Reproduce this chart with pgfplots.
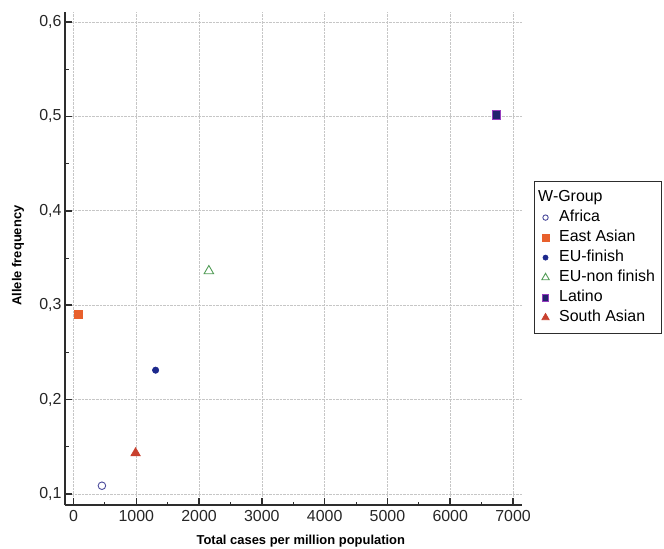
\documentclass[border=0pt]{standalone}
\usepackage{fontspec}
\setmainfont{Liberation Sans}
\usepackage{pgfplots}
\pgfplotsset{compat=1.18}
\definecolor{axc}{RGB}{45,45,45}
\definecolor{afr}{RGB}{75,75,155}
\definecolor{eas}{RGB}{232,96,44}
\definecolor{euf}{RGB}{28,40,140}
\definecolor{eun}{RGB}{80,155,85}
\definecolor{latf}{RGB}{35,35,110}
\definecolor{late}{RGB}{150,60,190}
\definecolor{sas}{RGB}{200,64,46}
\begin{document}
\begin{tikzpicture}
\path[use as bounding box] (0bp,0bp) rectangle (664bp,549bp);
\begin{axis}[
  at={(65bp,44bp)}, anchor=south west,
  scale only axis, width=457bp, height=493bp,
  xmin=-135, xmax=7143, ymin=0.0884, ymax=0.6106,
  clip=false,
  axis x line=bottom, axis y line=left,
  axis line style={-, line width=1.5bp, draw=axc},
  xtick={0,1000,2000,3000,4000,5000,6000,7000},
  ytick={0.1,0.2,0.3,0.4,0.5,0.6},
  minor x tick num=1, minor y tick num=1,
  tick align=inside,
  major tick length=7bp, minor tick length=3.5bp,
  tick style={line width=1.5bp, draw=axc},
  minor tick style={line width=1bp},
  grid=major,
  major grid style={densely dotted, draw=gray!45, line width=0.7bp},
  /pgf/number format/assume math mode=true,
  tick label style={font=\fontsize{16}{16}\selectfont, text=black!85},
  xticklabel style={/pgf/number format/1000 sep={}, yshift=-2bp},
  yticklabel style={/pgf/number format/.cd, fixed, fixed zerofill, precision=1, use comma},
  every axis x label/.style={at={(axis description cs:0.516,-0.0811)}, anchor=base, font=\fontsize{13}{13}\selectfont\bfseries},
  every axis y label/.style={at={(axis description cs:-0.1028,0.506)}, anchor=center, rotate=90, font=\fontsize{13}{13}\selectfont\bfseries},
  xlabel={Total cases per million population},
  ylabel={Allele frequency},
  legend style={at={(axis description cs:1.0263,0.657)}, anchor=north west,
    draw=axc, line width=1bp, font=\fontsize{16}{16}\selectfont,
    inner xsep=5bp, inner ysep=6bp, row sep=0bp,
    nodes={inner xsep=2bp, inner ysep=1bp, text height=13bp, text depth=5bp},
    /tikz/every odd column/.append style={column sep=8bp}},
  legend cell align=left,
  legend image code/.code={\draw[mark repeat=2,mark phase=2,#1] plot coordinates {(0bp,0bp)(6bp,0bp)(12bp,0bp)};},
]
\addlegendimage{empty legend}
\addlegendentry{\hspace{-21bp}W-Group}
\addplot[only marks, mark=o, mark size=3.8, mark options={draw=afr, line width=0.9bp}, legend image post style={mark size=2.7}] coordinates {(453,0.1088)};
\addlegendentry{Africa}
\addplot[only marks, mark=square*, mark size=4.3, mark options={draw=eas, fill=eas, line width=0.6bp}, legend image post style={mark size=3.3}] coordinates {(75,0.2905)};
\addlegendentry{East Asian}
\addplot[only marks, mark=*, mark size=3.2, mark options={draw=euf, fill=euf, line width=0.6bp}, legend image post style={mark size=2.6}] coordinates {(1308,0.2312)};
\addlegendentry{EU-finish}
\addplot[only marks, mark=triangle, mark size=5.5, mark options={draw=eun, line width=0.9bp}, legend image post style={mark size=4.3}] coordinates {(2156,0.3363)};
\addlegendentry{EU-non finish}
\addplot[only marks, mark=square*, mark size=4.3, mark options={draw=late, fill=latf, line width=0.7bp}, legend image post style={mark size=3.3}] coordinates {(6733,0.5014)};
\addlegendentry{Latino}
\addplot[only marks, mark=triangle*, mark size=5.5, mark options={draw=sas, fill=sas, line width=0.6bp}, legend image post style={mark size=4.3}] coordinates {(989,0.1434)};
\addlegendentry{South Asian}
\end{axis}
\end{tikzpicture}
\end{document}
